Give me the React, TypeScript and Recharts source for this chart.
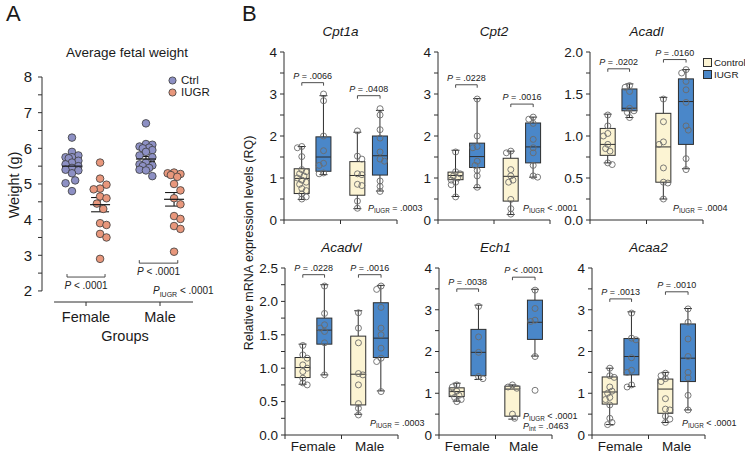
import React from 'react';
import { Bar, ComposedChart, ErrorBar, ReferenceLine, Scatter, XAxis, YAxis } from 'recharts';

// Figura: (A) peso fetal médio por sexo, (B) expressão relativa de mRNA (box plots).

const FONT = '"Liberation Sans", Arial, Helvetica, sans-serif';
const INK = '#1a1a1a';
const AXIS = '#2e2e2e';
const CTRL_DOT = '#8d90c4';
const IUGR_DOT = '#e8977c';
const CTRL_BOX = '#fcf4d3';
const IUGR_BOX = '#4a87c9';

const SEXES = ['Female', 'Male'];

// ---------- A: Average fetal weight ----------
const WEIGHT_CTRL_F = [6.3, 5.9, 5.8, 5.75, 5.75, 5.72, 5.65, 5.6, 5.55, 5.5, 5.45, 5.4, 5.38, 5.3, 5.1, 5.02, 4.8];
const WEIGHT_IUGR_F = [5.6, 5.15, 4.98, 4.87, 4.85, 4.65, 4.6, 4.45, 4.3, 3.9, 3.85, 3.6, 3.5, 2.9];
const WEIGHT_CTRL_M = [6.7, 6.12, 6.1, 6.05, 6.02, 6.0, 5.95, 5.9, 5.8, 5.75, 5.6, 5.55, 5.52, 5.5, 5.45, 5.4, 5.38, 5.22];
const WEIGHT_IUGR_M = [5.32, 5.3, 5.28, 5.25, 5.2, 5.0, 4.82, 4.6, 4.43, 4.1, 4.02, 3.82, 3.74, 3.1];
const WEIGHT_MEAN = [5.5, 4.42, 5.7, 4.57]; // ctrl F, iugr F, ctrl M, iugr M
const WEIGHT_SEM = [0.08, 0.2, 0.07, 0.19];
const WEIGHT_TICKS = [2, 2.5, 3, 3.5, 4, 4.5, 5, 5.5, 6, 6.5, 7, 7.5, 8];

// ---------- B: box plots [min, q1, mediana, q3, max] por ctrl F, iugr F, ctrl M, iugr M ----------
type Five = [number, number, number, number, number];

const CPT1A_BOX: Five[] = [
  [0.49, 0.63, 0.99, 1.22, 1.75],
  [1.08, 1.16, 1.5, 1.98, 2.96],
  [0.27, 0.59, 1.06, 1.39, 2.09],
  [0.69, 1.07, 1.53, 2.0, 2.61],
];
const CPT1A_PTS = [
  [1.75, 1.72, 1.51, 1.2, 1.15, 1.1, 1.05, 1.0, 0.95, 0.9, 0.85, 0.75, 0.7, 0.62, 0.55, 0.5],
  [3.0, 2.84, 2.0, 1.65, 1.35, 1.3, 1.12, 1.1],
  [2.12, 1.52, 1.45, 1.1, 1.08, 0.85, 0.82, 0.45, 0.28],
  [2.65, 2.5, 2.15, 1.95, 1.62, 1.45, 1.4, 0.93, 0.8, 0.68],
];

const CPT2_BOX: Five[] = [
  [0.56, 0.96, 1.06, 1.14, 1.66],
  [0.77, 1.25, 1.51, 1.83, 2.89],
  [0.13, 0.45, 1.04, 1.47, 1.64],
  [1.02, 1.36, 1.74, 2.31, 2.45],
];
const CPT2_PTS = [
  [1.62, 1.15, 1.1, 1.05, 1.0, 0.95, 0.9, 0.84, 0.55],
  [2.88, 2.0, 1.75, 1.72, 1.4, 1.3, 1.18, 1.05, 0.78],
  [1.64, 1.6, 1.2, 1.05, 0.95, 0.9, 0.49, 0.27, 0.14],
  [2.45, 2.4, 2.3, 1.92, 1.72, 1.6, 1.3, 1.05, 1.02],
];

const ACADL_BOX: Five[] = [
  [0.68, 0.77, 0.9, 1.09, 1.26],
  [1.22, 1.3, 1.33, 1.56, 1.62],
  [0.25, 0.45, 0.87, 1.27, 1.46],
  [0.61, 0.9, 1.41, 1.68, 1.79],
];
const ACADL_PTS = [
  [1.25, 1.12, 1.03, 1.0, 0.9, 0.85, 0.82, 0.68, 0.66],
  [1.6, 1.58, 1.53, 1.33, 1.3, 1.28, 1.22],
  [1.44, 1.17, 0.93, 0.9, 0.62, 0.45, 0.44, 0.25],
  [1.79, 1.75, 1.65, 1.55, 1.4, 1.12, 1.07, 0.73, 0.6],
];

const ACADVL_BOX: Five[] = [
  [0.76, 0.86, 1.01, 1.16, 1.36],
  [0.9, 1.36, 1.57, 1.75, 2.25],
  [0.31, 0.45, 0.91, 1.48, 1.86],
  [0.66, 1.16, 1.45, 1.98, 2.24],
];
const ACADVL_PTS = [
  [1.34, 1.2, 1.15, 1.05, 1.0, 0.95, 0.85, 0.78, 0.75],
  [2.23, 1.82, 1.65, 1.6, 1.55, 1.38, 0.9],
  [1.83, 1.6, 1.38, 0.92, 0.9, 0.75, 0.47, 0.4, 0.3],
  [2.23, 2.18, 1.91, 1.6, 1.5, 1.3, 1.15, 1.1, 0.65],
];

const ECH1_BOX: Five[] = [
  [0.81, 0.92, 1.04, 1.13, 1.24],
  [1.33, 1.42, 1.98, 2.53, 3.11],
  [0.38, 0.45, 1.1, 1.17, 1.2],
  [1.89, 2.29, 2.7, 3.23, 3.49],
];
const ECH1_PTS = [
  [1.2, 1.15, 1.05, 1.0, 0.95, 0.9, 0.85, 0.8],
  [3.08, 2.35, 1.98, 1.4, 1.35],
  [1.2, 1.15, 1.12, 0.5, 0.4],
  [3.47, 3.03, 2.75, 2.72, 1.88, 1.07],
];

const ACAA2_BOX: Five[] = [
  [0.25, 0.74, 1.03, 1.39, 1.6],
  [1.16, 1.44, 1.88, 2.31, 2.95],
  [0.3, 0.52, 1.1, 1.34, 1.5],
  [0.6, 1.28, 1.84, 2.66, 3.03],
];
const ACAA2_PTS = [
  [1.6, 1.42, 1.38, 1.15, 1.05, 1.0, 0.9, 0.85, 0.72, 0.4, 0.3, 0.25],
  [2.92, 2.32, 2.28, 1.85, 1.55, 1.5, 1.2, 1.15],
  [1.48, 1.42, 1.35, 1.28, 0.87, 0.62, 0.6, 0.45, 0.38, 0.3],
  [3.02, 2.7, 2.3, 1.88, 1.5, 1.37, 0.95, 0.6],
];

const TICKS_4 = [0, 0.5, 1, 1.5, 2, 2.5, 3, 3.5, 4];
const TICKS_2 = [0, 0.25, 0.5, 0.75, 1, 1.25, 1.5, 1.75, 2];
const TICKS_25 = [0, 0.25, 0.5, 0.75, 1, 1.25, 1.5, 1.75, 2, 2.25, 2.5];

interface Gene {
  name: string;
  box: Five[];
  pts: number[][];
  yMax: number;
  ticks: number[];
  major: number;
  dec: number;
  brackets: [number, string][]; // altura do colchete (valor), texto do P
  pIugr: string;
  pInt?: string;
}

const GENES: Gene[] = [
  { name: 'Cpt1a', box: CPT1A_BOX, pts: CPT1A_PTS, yMax: 4, ticks: TICKS_4, major: 1, dec: 0, brackets: [[3.27, '= .0066'], [2.96, '= .0408']], pIugr: '= .0003' },
  { name: 'Cpt2', box: CPT2_BOX, pts: CPT2_PTS, yMax: 4, ticks: TICKS_4, major: 1, dec: 0, brackets: [[3.22, '= .0228'], [2.76, '= .0016']], pIugr: '< .0001' },
  { name: 'Acadl', box: ACADL_BOX, pts: ACADL_PTS, yMax: 2, ticks: TICKS_2, major: 0.5, dec: 1, brackets: [[1.8, '= .0202'], [1.91, '= .0160']], pIugr: '= .0004' },
  { name: 'Acadvl', box: ACADVL_BOX, pts: ACADVL_PTS, yMax: 2.5, ticks: TICKS_25, major: 0.5, dec: 1, brackets: [[2.4, '= .0228'], [2.4, '= .0016']], pIugr: '= .0003' },
  { name: 'Ech1', box: ECH1_BOX, pts: ECH1_PTS, yMax: 4, ticks: TICKS_4, major: 1, dec: 0, brackets: [[3.5, '= .0038'], [3.78, '< .0001']], pIugr: '< .0001', pInt: '= .0463' },
  { name: 'Acaa2', box: ACAA2_BOX, pts: ACAA2_PTS, yMax: 4, ticks: TICKS_4, major: 1, dec: 0, brackets: [[3.26, '= .0013'], [3.43, '= .0010']], pIugr: '< .0001' },
];

// posição dos painéis na página (px)
const PANEL_POS = [
  { axisX: 284, top: 52, bottom: 220, right: 397, pX: 368, pY: 204 },
  { axisX: 438, top: 52, bottom: 220, right: 550, pX: 523, pY: 204 },
  { axisX: 590, top: 52, bottom: 220, right: 703, pX: 673, pY: 204 },
  { axisX: 285, top: 268, bottom: 435, right: 398, pX: 370, pY: 419 },
  { axisX: 439, top: 268, bottom: 435, right: 552, pX: 523, pY: 412 },
  { axisX: 592, top: 268, bottom: 435, right: 705, pX: 682, pY: 419 },
];
const BOX_X = [0.63, 1.4, 2.6, 3.4];
const BOX_W = 15;

// beeswarm determinístico: afasta na horizontal os pontos que colidem
function swarm(vals: number[], pxY: number, pxX: number, gap: number, step: number, maxOff: number): number[] {
  const order = vals.map((_, i) => i).sort((a, b) => vals[b] - vals[a]);
  const placed: [number, number][] = [];
  const out = vals.map(() => 0);
  order.forEach((i, n) => {
    const y = vals[i] * pxY;
    const s = n % 2 ? -1 : 1;
    const cands = [0];
    for (let k = 1; k * step <= maxOff; k++) cands.push(s * k * step, -s * k * step);
    let best = 0;
    let bestD = -1;
    for (const c of cands) {
      const d = Math.min(Infinity, ...placed.map(([px, py]) => Math.hypot(px - c, py - y)));
      if (d >= gap) {
        best = c;
        break;
      }
      if (d > bestD) {
        bestD = d;
        best = c;
      }
    }
    placed.push([best, y]);
    out[i] = best / pxX;
  });
  return out;
}

function PText({ text }: { text: string }) {
  return (
    <>
      <tspan fontStyle="italic">P</tspan>
      <tspan>{` ${text}`}</tspan>
    </>
  );
}

const bracket = (text: string, up: boolean, textDy: number, fs: number) => (p: any) => {
  const { x1, x2, y1 } = p;
  const t = up ? -3 : 3;
  return (
    <g>
      <path d={`M${x1},${y1 + t}V${y1}H${x2}V${y1 + t}`} fill="none" stroke="#3a3a3a" strokeWidth={0.9} />
      <text x={(x1 + x2) / 2} y={y1 + textDy} textAnchor="middle" fontSize={fs} fill="#222" fontFamily={FONT}>
        <PText text={text} />
      </text>
    </g>
  );
};

function PNote({ x, y, text, sub, size }: { x: number; y: number; text: string; sub: string; size: number }) {
  return (
    <div style={{ position: 'absolute', left: x, top: y, fontSize: size, lineHeight: 1, whiteSpace: 'nowrap', color: '#222' }}>
      <i>P</i>
      <span style={{ fontSize: size * 0.7, position: 'relative', top: size * 0.25 }}>{sub}</span> {text}
    </div>
  );
}

function BoxShape(props: any) {
  const { x, y, width, height } = props;
  const entry = props.payload ?? props;
  const s: Five = entry.stats;
  const top = Math.min(y, y + height);
  const h = Math.abs(height);
  const py = (v: number) => top + (h * (s[3] - v)) / (s[3] - s[1]);
  const cx = x + width / 2;
  const bx = cx - BOX_W / 2;
  const cap = 4;
  return (
    <g stroke={AXIS} strokeWidth={1}>
      <line x1={cx} x2={cx} y1={py(s[4])} y2={top} />
      <line x1={cx} x2={cx} y1={top + h} y2={py(s[0])} />
      <line x1={cx - cap} x2={cx + cap} y1={py(s[4])} y2={py(s[4])} />
      <line x1={cx - cap} x2={cx + cap} y1={py(s[0])} y2={py(s[0])} />
      <rect x={bx} y={top} width={BOX_W} height={h} fill={entry.iugr ? IUGR_BOX : CTRL_BOX} />
      <line x1={bx} x2={bx + BOX_W} y1={py(s[2])} y2={py(s[2])} />
    </g>
  );
}

const OpenDot = (p: any) => <circle cx={p.cx} cy={p.cy} r={3} fill="none" stroke="#6b6b6b" strokeWidth={0.9} />;

function BoxPanel({ gene, pos, showX }: { gene: Gene; pos: (typeof PANEL_POS)[number]; showX: boolean }) {
  const ML = 40;
  const MT = 22;
  const MR = 5;
  const XH = 26;
  const plotW = pos.right - pos.axisX;
  const plotH = pos.bottom - pos.top;
  const pxY = plotH / gene.yMax;
  const pxX = plotW / 4;
  const boxes = gene.box.map((s, i) => ({ x: BOX_X[i], range: [s[1], s[3]], stats: s, iugr: i % 2 === 1 }));
  const points = gene.pts.flatMap((vals, i) => {
    const off = swarm(vals, pxY, pxX, 4.5, 2.2, 5.5);
    return vals.map((v, k) => ({ x: BOX_X[i] + off[k], y: v }));
  });
  const xTick = (p: any) => {
    const v = p.payload.value;
    if (v % 2 === 0) return <line x1={p.x} x2={p.x} y1={p.y} y2={p.y + 4} stroke={AXIS} />;
    if (!showX) return <g />;
    return (
      <text x={p.x} y={p.y + 16} textAnchor="middle" fontSize={13.5} fill={INK} fontFamily={FONT}>
        {SEXES[(v - 1) / 2]}
      </text>
    );
  };
  return (
    <>
      <div style={{ position: 'absolute', left: pos.axisX, width: plotW, top: pos.top - 28, textAlign: 'center', fontSize: 13.5, fontStyle: 'italic' }}>
        {gene.name}
      </div>
      <div style={{ position: 'absolute', left: pos.axisX - ML, top: pos.top - MT }}>
        <ComposedChart width={plotW + ML + MR} height={plotH + MT + XH} data={boxes} margin={{ top: MT, right: MR, bottom: 0, left: 0 }}>
          <XAxis
            type="number"
            dataKey="x"
            domain={[0, 4]}
            ticks={[0, 1, 2, 3, 4]}
            interval={0}
            height={XH}
            tickLine={false}
            tickSize={0}
            tickMargin={0}
            axisLine={{ stroke: AXIS }}
            tick={xTick}
            allowDataOverflow
          />
          <YAxis
            type="number"
            domain={[0, gene.yMax]}
            ticks={gene.ticks}
            interval={0}
            width={ML}
            tickSize={4}
            tickMargin={3}
            tickLine={{ stroke: AXIS }}
            axisLine={{ stroke: AXIS }}
            tick={{ fontSize: 13.5, fill: INK, fontFamily: FONT }}
            tickFormatter={(v: number) => (Math.abs(v / gene.major - Math.round(v / gene.major)) < 1e-6 ? v.toFixed(gene.dec) : '')}
            allowDataOverflow
          />
          <Bar dataKey="range" barSize={BOX_W} shape={BoxShape} isAnimationActive={false} />
          <Scatter data={points} dataKey="y" shape={OpenDot} isAnimationActive={false} />
          {gene.brackets.map(([h, t], i) => (
            <ReferenceLine
              key={i}
              segment={[
                { x: BOX_X[i * 2], y: h },
                { x: BOX_X[i * 2 + 1], y: h },
              ]}
              shape={bracket(t, false, -4, 9)}
            />
          ))}
        </ComposedChart>
      </div>
      <PNote x={pos.pX} y={pos.pY} text={gene.pIugr} sub="IUGR" size={9} />
      {gene.pInt ? <PNote x={pos.pX} y={pos.pY + 10} text={gene.pInt} sub="int" size={9} /> : null}
    </>
  );
}

function WeightPanel() {
  const X_LO = 0.405;
  const X_HI = 2.446;
  const Y_LO = 1.69;
  const offX = [-0.19, 0.19];
  const groups = [WEIGHT_CTRL_F, WEIGHT_IUGR_F, WEIGHT_CTRL_M, WEIGHT_IUGR_M];
  const gx = groups.map((_, i) => Math.floor(i / 2) + 1 + offX[i % 2]);
  const dots = groups.map((vals, i) => {
    const off = swarm(vals, 35.67, 74, 7.2, 3.2, 9.6);
    return vals.map((v, k) => ({ x: gx[i] + off[k], y: v }));
  });
  const means = WEIGHT_MEAN.map((m, i) => ({ x: gx[i], y: m, err: WEIGHT_SEM[i] }));
  const dotShape = (fill: string) => (p: any) => <circle cx={p.cx} cy={p.cy} r={3.8} fill={fill} stroke="#3a3a3a" strokeWidth={0.8} />;
  const meanShape = (p: any) => <line x1={p.cx - 10} x2={p.cx + 10} y1={p.cy} y2={p.cy} stroke={INK} strokeWidth={1.2} />;
  return (
    <div style={{ position: 'absolute', left: 0, top: 57 }}>
      <ComposedChart width={200} height={275} margin={{ top: 20, right: 7, bottom: 0, left: 2 }}>
        <XAxis
          type="number"
          dataKey="x"
          domain={[X_LO, X_HI]}
          ticks={[1, 2]}
          interval={0}
          height={30}
          axisLine={false}
          tickSize={4}
          tickMargin={6}
          tickLine={{ stroke: AXIS }}
          tick={{ fontSize: 14.5, fill: INK, fontFamily: FONT }}
          tickFormatter={(v: number) => SEXES[v - 1]}
          allowDataOverflow
        />
        <YAxis
          type="number"
          domain={[Y_LO, 8]}
          ticks={WEIGHT_TICKS}
          interval={0}
          width={40}
          axisLine={false}
          tickSize={4}
          tickMargin={6}
          tickLine={{ stroke: AXIS }}
          tick={{ fontSize: 15, fill: INK, fontFamily: FONT }}
          tickFormatter={(v: number) => (Number.isInteger(v) ? String(v) : '')}
          allowDataOverflow
        />
        <ReferenceLine segment={[{ x: X_LO, y: 2 }, { x: X_LO, y: 8 }]} stroke={AXIS} ifOverflow="visible" />
        <ReferenceLine segment={[{ x: 0.568, y: Y_LO }, { x: X_HI, y: Y_LO }]} stroke={AXIS} ifOverflow="visible" />
        {dots.map((d, i) => (
          <Scatter key={i} data={d} dataKey="y" shape={dotShape(i % 2 ? IUGR_DOT : CTRL_DOT)} isAnimationActive={false} />
        ))}
        <Scatter data={means} dataKey="y" shape={meanShape} isAnimationActive={false}>
          <ErrorBar dataKey="err" direction="y" width={9} stroke={INK} strokeWidth={1.1} />
        </Scatter>
        <ReferenceLine segment={[{ x: 0.743, y: 2.39 }, { x: 1.257, y: 2.39 }]} shape={bracket('< .0001', true, 12, 10)} />
        <ReferenceLine segment={[{ x: 1.72, y: 2.78 }, { x: 2.24, y: 2.78 }]} shape={bracket('< .0001', true, 12, 10)} />
      </ComposedChart>
    </div>
  );
}

function LegendA() {
  const items: [string, string][] = [
    ['Ctrl', CTRL_DOT],
    ['IUGR', IUGR_DOT],
  ];
  return (
    <>
      {items.map(([label, c], i) => (
        <div key={label} style={{ position: 'absolute', left: 168, top: 74 + i * 12, height: 12, display: 'flex', alignItems: 'center', fontSize: 11.5, lineHeight: '12px', whiteSpace: 'nowrap' }}>
          <svg width={9} height={9} style={{ marginRight: 4 }}>
            <circle cx={4.5} cy={4.5} r={3.6} fill={c} stroke="#3a3a3a" strokeWidth={0.8} />
          </svg>
          {label}
        </div>
      ))}
    </>
  );
}

function LegendB() {
  const items: [string, string][] = [
    ['Control', CTRL_BOX],
    ['IUGR', IUGR_BOX],
  ];
  return (
    <>
      {items.map(([label, c], i) => (
        <div key={label} style={{ position: 'absolute', left: 703, top: 57 + i * 12, display: 'flex', alignItems: 'center', fontSize: 9.8, lineHeight: '11px', whiteSpace: 'nowrap' }}>
          <span style={{ width: 7, height: 7, background: c, border: `1px solid ${AXIS}`, marginRight: 2 }} />
          {label}
        </div>
      ))}
    </>
  );
}

export default function App() {
  return (
    <div style={{ position: 'absolute', left: 0, top: 0, width: 745, height: 453, background: '#fff', fontFamily: FONT, color: INK, overflow: 'hidden' }}>
      <div style={{ position: 'absolute', left: 6, top: 1, fontSize: 22 }}>A</div>
      <div style={{ position: 'absolute', left: 242, top: 1, fontSize: 22 }}>B</div>
      <div style={{ position: 'absolute', left: 42, width: 170, top: 45, textAlign: 'center', fontSize: 13.5 }}>Average fetal weight</div>
      <div style={{ position: 'absolute', left: 14, top: 185, transform: 'translate(-50%, -50%) rotate(-90deg)', fontSize: 14.5, whiteSpace: 'nowrap' }}>
        Weight (g)
      </div>
      <div style={{ position: 'absolute', left: 249, top: 243, transform: 'translate(-50%, -50%) rotate(-90deg)', fontSize: 12.5, whiteSpace: 'nowrap' }}>
        Relative mRNA expression levels (RQ)
      </div>
      <WeightPanel />
      <LegendA />
      <PNote x={153} y={286} text="< .0001" sub="IUGR" size={10} />
      <div style={{ position: 'absolute', left: 60, width: 130, top: 328, textAlign: 'center', fontSize: 14.5 }}>Groups</div>
      {GENES.map((g, i) => (
        <BoxPanel key={g.name} gene={g} pos={PANEL_POS[i]} showX={i >= 3} />
      ))}
      <LegendB />
    </div>
  );
}
